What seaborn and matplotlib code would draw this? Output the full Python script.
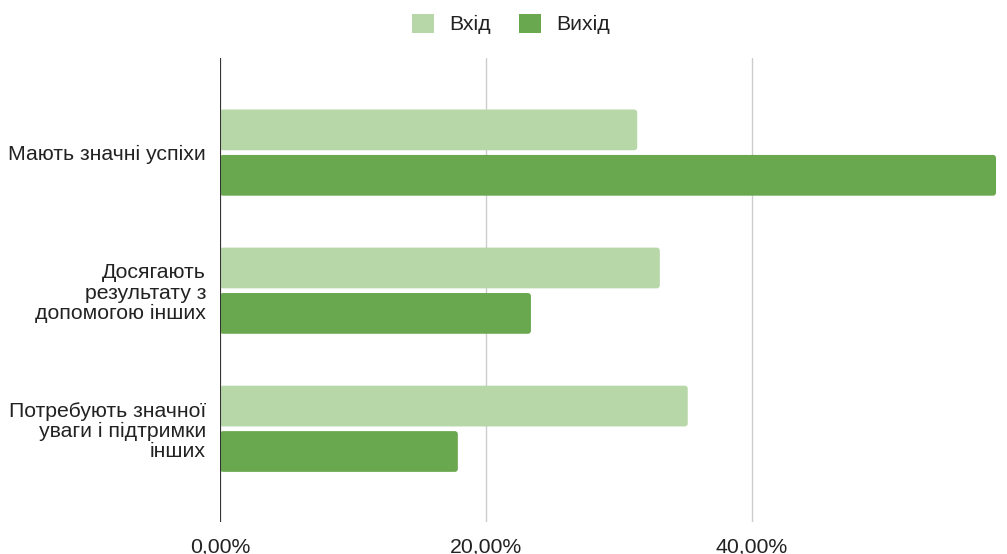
import numpy as np
import pandas as pd
import matplotlib
matplotlib.use("Agg")
import matplotlib.pyplot as plt
from matplotlib.patches import FancyBboxPatch
from matplotlib.ticker import FuncFormatter
import seaborn as sns

categories = ["Мають значні успіхи",
              "Досягають\nрезультату з\nдопомогою інших",
              "Потребують значної\nуваги і підтримки\nінших"]
series = ["Вхід", "Вихід"]
vhid = [31.4, 33.1, 35.2]
vyhid = [58.4, 23.4, 17.9]
x_ticks = [0, 20, 40]
colors = ["#b7d7a8", "#6aa84f"]

df = pd.DataFrame({
    "cat": categories * 2,
    "series": [series[0]] * 3 + [series[1]] * 3,
    "value": vhid + vyhid,
})

sns.set_style("white")
plt.rcParams["font.family"] = ["Liberation Sans", "DejaVu Sans"]
fs = 15.3

fig = plt.figure(figsize=(10.07, 5.54), dpi=100)
ax = fig.add_axes([220 / 1007, 32 / 554, 776 / 1007, 464 / 554])

sns.barplot(data=df, y="cat", x="value", hue="series", orient="h",
            palette=colors, width=0.658, gap=0.103, ax=ax, legend=True,
            saturation=1, edgecolor="none", linewidth=0)

ax.set_xlim(0, max(vyhid))
ax.set_ylim(2.675, -0.685)

# rounded corners: replace each bar with a fancy box
fig.canvas.draw()
inv = ax.transData.inverted()
px_x = inv.transform([[1, 0]])[0][0] - inv.transform([[0, 0]])[0][0]
px_y = abs(inv.transform([[0, 1]])[0][1] - inv.transform([[0, 0]])[0][1])
r = 3 * px_x
for p in list(ax.patches):
    x0, y0 = p.get_x(), p.get_y()
    w, h = p.get_width(), p.get_height()
    if w <= 0:
        continue
    fb = FancyBboxPatch((x0, y0), w, h,
                        boxstyle="round,pad=0,rounding_size=%f" % r,
                        mutation_aspect=px_y / px_x,
                        facecolor=p.get_facecolor(), edgecolor="none", zorder=3)
    p.set_visible(False)
    ax.add_patch(fb)

ax.set_xticks(x_ticks)
ax.xaxis.set_major_formatter(FuncFormatter(lambda v, pos: ("%.2f%%" % v).replace(".", ",")))
ax.grid(axis="x", color="#cccccc", linewidth=1)
ax.set_axisbelow(True)
ax.axvline(0, color="#333333", linewidth=1.5, zorder=4)
for s in ax.spines.values():
    s.set_visible(False)
ax.tick_params(axis="x", length=0, pad=11, labelsize=fs, labelcolor="#222222")
ax.tick_params(axis="y", length=0, pad=10, labelsize=fs, labelcolor="#222222")
for t in ax.get_yticklabels():
    t.set_multialignment("right")
    t.set_linespacing(1.09)
ax.set_xlabel("")
ax.set_ylabel("")

handles, labels = ax.get_legend_handles_labels()
ax.get_legend().remove()
fig.legend(handles, labels, loc="center", bbox_to_anchor=(511 / 1007, 1 - 24 / 554),
           ncol=2, frameon=False, fontsize=fs, handlelength=1.02, handleheight=1.02,
           handletextpad=0.7, columnspacing=1.35, labelcolor="#222222")

fig.savefig("out.png", dpi=100)
